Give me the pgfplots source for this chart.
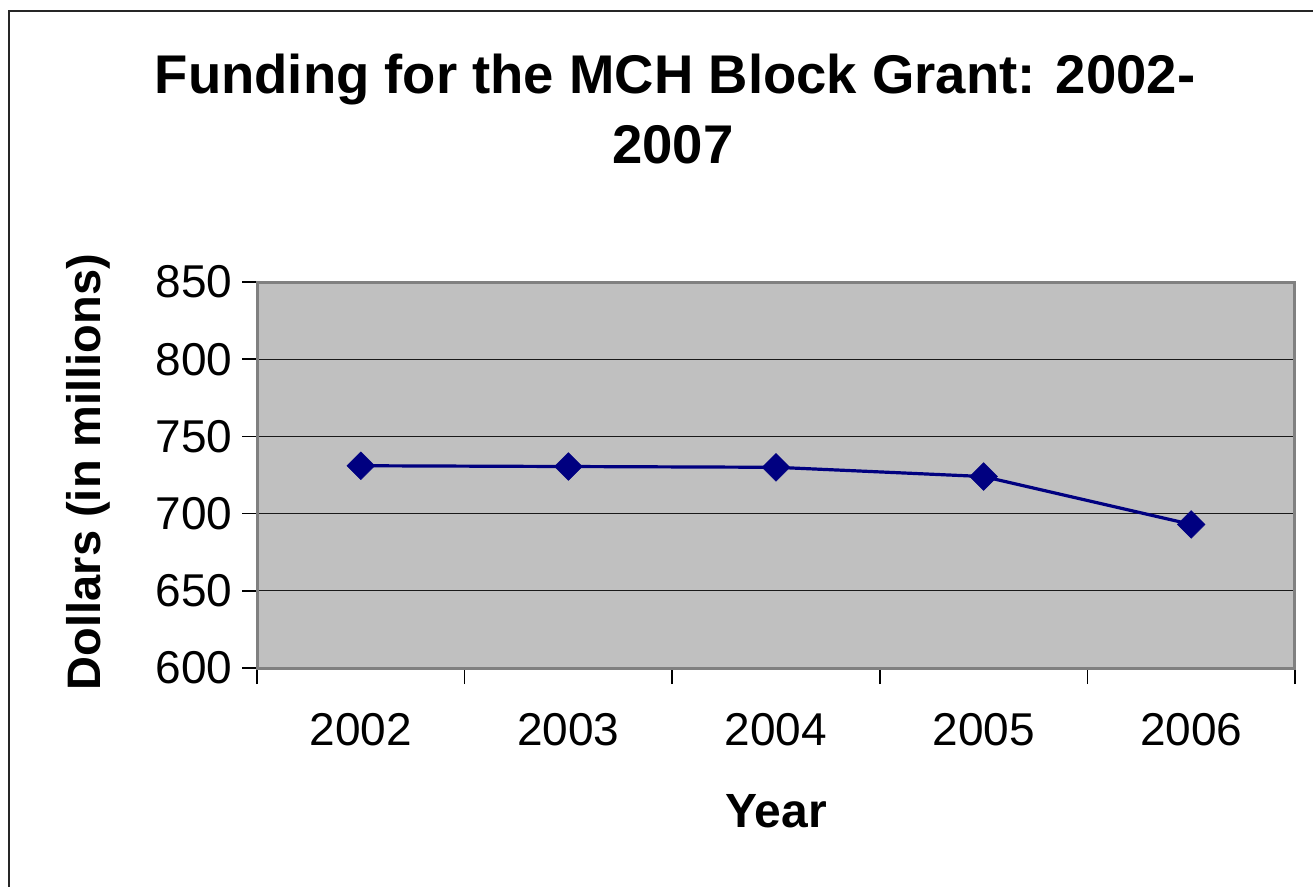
\documentclass[border=0pt]{standalone}
\usepackage{fontspec}
\setmainfont{Liberation Sans}
\usepackage{pgfplots}
\pgfplotsset{compat=1.18}
\definecolor{navy}{HTML}{000080}
\definecolor{plotgray}{HTML}{C0C0C0}
\definecolor{framegray}{HTML}{808080}
\begin{document}
\begin{tikzpicture}[x=1pt,y=-1pt]
\useasboundingbox (0,0) rectangle (1313,886);
\draw[line width=2pt, black!85] (9,892) -- (9,11) -- (1320,11);
\node[font=\fontsize{54.5}{60}\selectfont\bfseries, anchor=base, inner sep=0pt] at (675,93) {Funding for the MCH Block Grant: 2002-};
\node[font=\fontsize{54.5}{60}\selectfont\bfseries, anchor=base, inner sep=0pt] at (673,163) {2007};
\node[font=\fontsize{48}{52}\selectfont\bfseries, anchor=base, inner sep=0pt] at (776,827) {Year};
\node[font=\fontsize{47}{52}\selectfont\bfseries, rotate=90, anchor=center, inner sep=0pt] at (88,472) {Dollars (in millions)};
\begin{axis}[
  at={(257pt,-668pt)}, anchor=south west,
  width=1038pt, height=386pt, scale only axis,
  xmin=0.5, xmax=5.5, ymin=600, ymax=850,
  xtick={1,2,3,4,5}, xticklabels={2002,2003,2004,2005,2006},
  major x tick style={draw=none},
  minor xtick={0.5,1.5,2.5,3.5,4.5,5.5},
  ytick={600,650,700,750,800,850},
  tick align=outside, tick pos=left,
  major tick length=15pt, minor tick length=16pt,
  ymajorgrids, grid style={black!90, line width=1.3pt},
  axis background/.style={fill=plotgray},
  axis line style={framegray, line width=3pt},
  tick style={black, line width=1.5pt},
  ticklabel style={font=\fontsize{46}{52}\selectfont},
  /pgf/number format/assume math mode=true,
  yticklabel style={xshift=-6pt},
  xticklabel style={yshift=-27pt},
  clip=false,
]
\addplot[navy, line width=3.2pt, mark=square*, mark size=9.8pt, mark options={rotate=45, line width=0.5pt}] coordinates {(1,731) (2,730.5) (3,730) (4,724) (5,693)};
\end{axis}
\end{tikzpicture}
\end{document}
